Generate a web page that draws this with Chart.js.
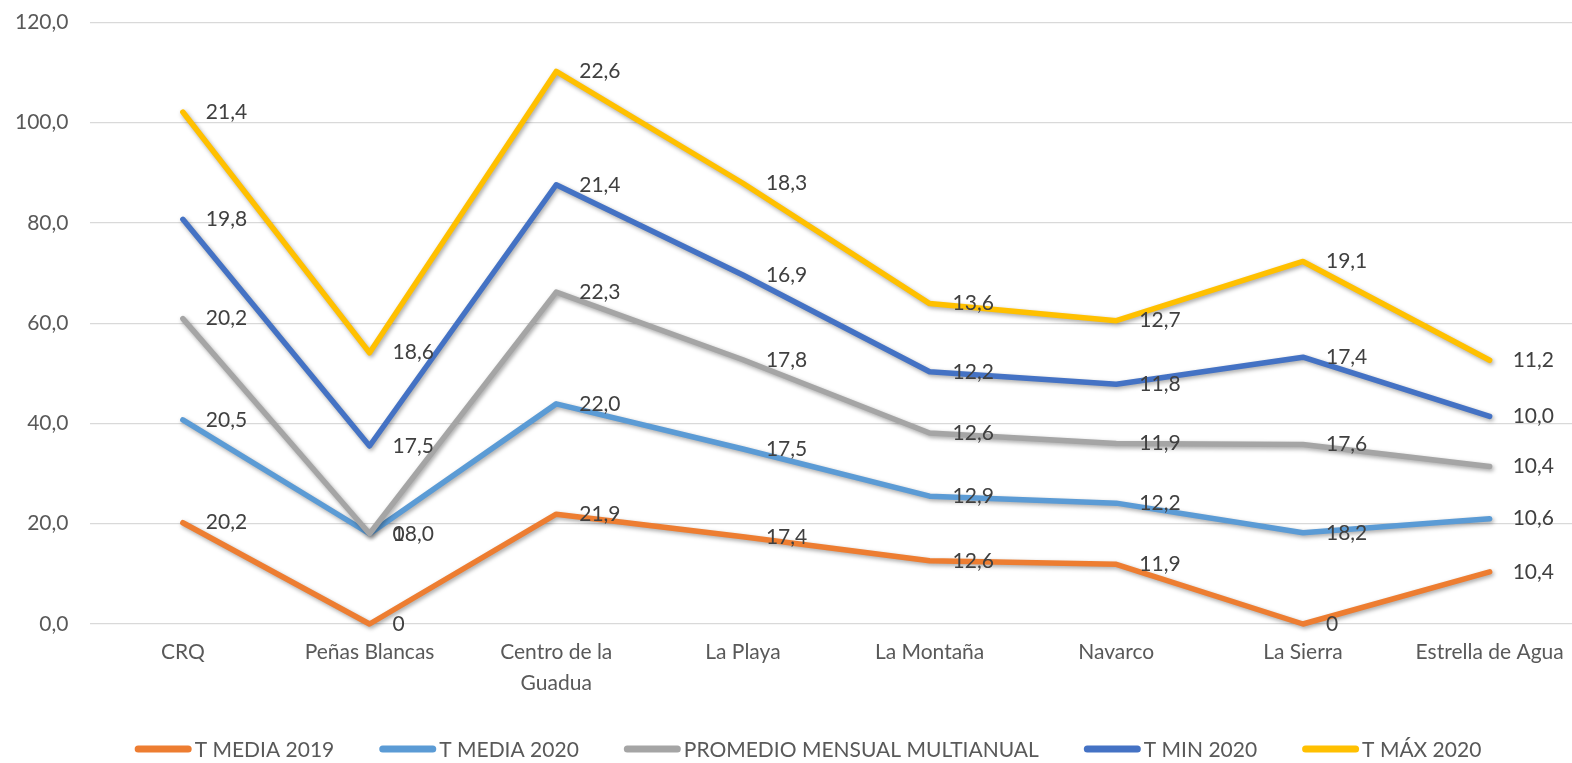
<!DOCTYPE html>
<html>
<head>
<meta charset="utf-8">
<script src="https://cdn.jsdelivr.net/npm/chart.js@4/dist/chart.umd.min.js"></script>
<style>
  html, body { margin: 0; padding: 0; overflow: hidden; background: #fff; }
  #wrap { position: absolute; left: 0; top: 0; width: 1600px; height: 763px; }
</style>
</head>
<body>
<div id="wrap"><canvas id="c"></canvas></div>
<script>
const categories = ["CRQ", "Peñas Blancas", ["Centro de la", "Guadua"], "La Playa", "La Montaña", "Navarco", "La Sierra", "Estrella de Agua"];
const tMedia2019 = [20.2, 0, 21.9, 17.4, 12.6, 11.9, 0, 10.4];
const tMedia2020 = [20.5, 18.0, 22.0, 17.5, 12.9, 12.2, 18.2, 10.6];
const promedioMultianual = [20.2, 0, 22.3, 17.8, 12.6, 11.9, 17.6, 10.4];
const tMin2020 = [19.8, 17.5, 21.4, 16.9, 12.2, 11.8, 17.4, 10.0];
const tMax2020 = [21.4, 18.6, 22.6, 18.3, 13.6, 12.7, 19.1, 11.2];
const seriesNames = ["T MEDIA 2019", "T MEDIA 2020", "PROMEDIO MENSUAL MULTIANUAL", "T MIN 2020", "T MÁX 2020"];
const seriesColors = ["#ED7D31", "#5B9BD5", "#A5A5A5", "#4472C4", "#FFC000"];
const yTicks = { min: 0, max: 120, step: 20 };

const FONT = "Lato, 'Open Sans', sans-serif";
const fmt = v => v === 0 ? "0" : v.toFixed(1).replace(".", ",");

const seriesData = [tMedia2019, tMedia2020, promedioMultianual, tMin2020, tMax2020];

const drawPlugin = {
  id: 'customDraw',
  beforeDatasetDraw() { return false; },
  afterDatasetsDraw(chart) {
    const ctx = chart.ctx;
    for (let i = 0; i < chart.data.datasets.length; i++) {
      const meta = chart.getDatasetMeta(i);
      ctx.save();
      ctx.shadowColor = 'rgba(0,0,0,0.35)';
      ctx.shadowBlur = 4;
      ctx.shadowOffsetX = 1.5;
      ctx.shadowOffsetY = 2;
      meta.controller.draw();
      ctx.restore();
    }
    ctx.save();
    ctx.font = "21px " + FONT;
    ctx.fillStyle = "#404040";
    ctx.textAlign = "left";
    ctx.textBaseline = "middle";
    for (let i = 0; i < chart.data.datasets.length; i++) {
      const meta = chart.getDatasetMeta(i);
      const vals = chart.data.datasets[i].data;
      meta.data.forEach((el, j) => {
        ctx.fillText(fmt(vals[j]), el.x + 23, el.y);
      });
    }
    ctx.restore();
  },
  afterDraw(chart) {
    const ctx = chart.ctx;
    ctx.save();
    ctx.font = "21px " + FONT;
    const markerW = 57, gapText = 3, gapItem = 45;
    const items = chart.data.datasets.map(d => ({ label: d.label, color: d.borderColor, w: ctx.measureText(d.label).width }));
    let total = 0;
    items.forEach((it, k) => { total += markerW + gapText + it.w + (k < items.length - 1 ? gapItem : 0); });
    let x = 808 - total / 2;
    const y = 749;
    items.forEach(it => {
      ctx.strokeStyle = it.color;
      ctx.lineWidth = 7;
      ctx.lineCap = 'round';
      ctx.beginPath();
      ctx.moveTo(x + 3.5, y);
      ctx.lineTo(x + markerW - 3.5, y);
      ctx.stroke();
      ctx.fillStyle = "#595959";
      ctx.textAlign = "left";
      ctx.textBaseline = "middle";
      ctx.fillText(it.label, x + markerW + gapText, y + 1);
      x += markerW + gapText + it.w + gapItem;
    });
    ctx.restore();
  }
};

new Chart(document.getElementById('c'), {
  type: 'line',
  data: {
    labels: categories,
    datasets: seriesData.map((arr, i) => ({
      label: seriesNames[i],
      data: arr,
      borderColor: seriesColors[i],
      backgroundColor: seriesColors[i],
      borderWidth: 5.5,
      pointRadius: 0,
      tension: 0,
      fill: false,
      borderJoinStyle: 'round',
      borderCapStyle: 'round'
    }))
  },
  options: {
    responsive: true,
    maintainAspectRatio: false,
    animation: false,
    layout: { padding: { left: 0, right: 17, top: 22.3, bottom: 0 } },
    plugins: { legend: { display: false }, tooltip: { enabled: false } },
    scales: {
      x: {
        offset: true,
        grid: { display: false, drawTicks: false },
        border: { display: false },
        ticks: { color: "#595959", font: { family: FONT, size: 21, lineHeight: 1.48 }, padding: 13, maxRotation: 0, autoSkip: false },
        afterFit: s => { s.height = 139; }
      },
      y: {
        stacked: true,
        min: yTicks.min, max: yTicks.max,
        grid: { color: "#d9d9d9", lineWidth: 1.3, drawTicks: false },
        border: { display: false },
        ticks: { stepSize: yTicks.step, color: "#595959", font: { family: FONT, size: 21 }, padding: 21, callback: v => v.toFixed(1).replace(".", ",") },
        afterFit: s => { s.width = 89.5; s.paddingTop = 0; s.paddingBottom = 0; }
      }
    }
  },
  plugins: [drawPlugin]
});
</script>
</body>
</html>
